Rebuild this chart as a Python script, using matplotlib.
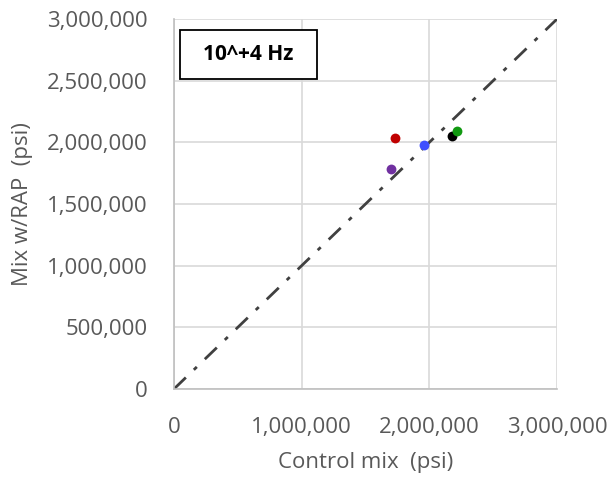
import matplotlib.pyplot as plt
from matplotlib.patches import Rectangle
from matplotlib.ticker import FuncFormatter

# values (psi)
control_mix = [1729000, 1958000, 1697000, 2177000, 2217000]
mix_rap = [2038000, 1981000, 1786000, 2054000, 2089000]
point_colors = ["#C00000", "#3F4FFF", "#7030A0", "#000000", "#119911"]
ticks = [0, 1000000, 2000000, 3000000]
y_ticks = [0, 500000, 1000000, 1500000, 2000000, 2500000, 3000000]
label_text = "10^+4 Hz"

plt.rcParams["font.family"] = ["Open Sans", "DejaVu Sans"]

fig = plt.figure(figsize=(6.1, 4.78), dpi=100)
ax = fig.add_axes([0.285, 0.186, 0.628, 0.774])

ax.plot([0, 3000000], [0, 3000000], color="#404040", linestyle=(0, (6, 4, 1.5, 4)),
        linewidth=2, zorder=2)
for x, y, c in zip(control_mix, mix_rap, point_colors):
    ax.scatter(x, y, s=50, color=c, zorder=3, linewidths=0)

ax.set_xlim(0, 3000000)
ax.set_ylim(0, 3000000)
ax.set_xticks(ticks)
ax.set_yticks(y_ticks)
fmt = FuncFormatter(lambda v, p: f"{int(v):,}")
ax.xaxis.set_major_formatter(fmt)
ax.yaxis.set_major_formatter(fmt)
ax.grid(True, color="#D9D9D9", linewidth=1.2, zorder=0)
ax.set_axisbelow(True)
for s in ["top", "right"]:
    ax.spines[s].set_visible(False)
for s in ["left", "bottom"]:
    ax.spines[s].set_color("#BFBFBF")
    ax.spines[s].set_linewidth(1.2)
ax.tick_params(length=0, labelsize=16, colors="#595959")
ax.tick_params(axis="x", pad=20)
ax.tick_params(axis="y", pad=19)
ax.set_xlabel("Control mix  (psi)", fontsize=16, color="#595959")
ax.set_ylabel("Mix w/RAP  (psi)", fontsize=16, color="#595959")
ax.xaxis.set_label_coords(0.5, -0.17)
ax.yaxis.set_label_coords(-0.368, 0.5)

fig.patches.append(Rectangle((0.295, 0.835), 0.2246, 0.1025, transform=fig.transFigure,
                             facecolor="white", edgecolor="black", linewidth=1.3, zorder=5))
fig.text(0.4074, 0.886, label_text, fontsize=15, fontweight="bold", ha="center",
         va="center", color="black", zorder=6)

fig.savefig("out.png", dpi=100)
